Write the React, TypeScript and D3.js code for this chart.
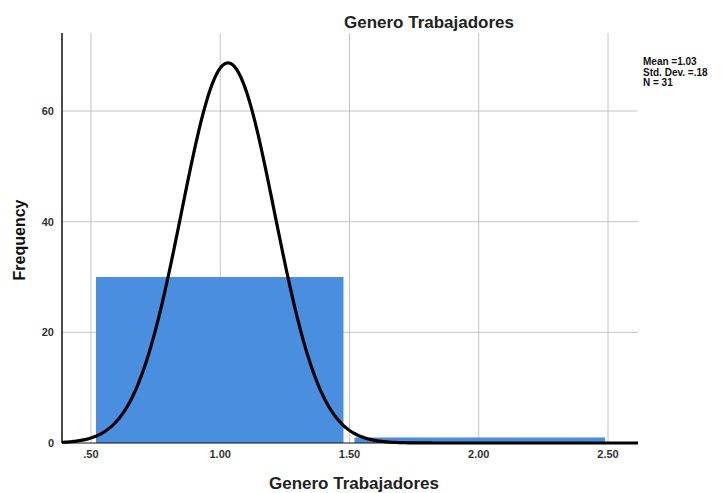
import React from "react";
import * as d3 from "d3";

// Histogram of "Genero Trabajadores" with a fitted normal curve
const binStarts = [0.5, 1.5];
const binEnds = [1.5, 2.5];
const frequencies = [30, 1];
const xTicks = [0.5, 1.0, 1.5, 2.0, 2.5];
const xTickLabels = [".50", "1.00", "1.50", "2.00", "2.50"];
const yTicks = [0, 20, 40, 60];
const statLines = ["Mean =1.03", "Std. Dev. =.18", "N = 31"];
const mean = 1.03;
const stdDev = 0.18;
const n = 31;

const W = 722;
const H = 493;
const margin = { top: 33, right: 84, bottom: 50, left: 62 };

export default function App() {
  const innerW = W - margin.left - margin.right;
  const innerH = H - margin.top - margin.bottom;
  const x = d3.scaleLinear().domain([0.388, 2.616]).range([0, innerW]);
  const y = d3.scaleLinear().domain([0, 74.1]).range([innerH, 0]);
  const binWidth = binEnds[0] - binStarts[0];

  const curvePts = d3.range(0, 401).map((i) => {
    const xv = x.domain()[0] + ((x.domain()[1] - x.domain()[0]) * i) / 400;
    const z = (xv - mean) / stdDev;
    const yv = (n * binWidth) / (stdDev * Math.sqrt(2 * Math.PI)) * Math.exp(-0.5 * z * z);
    return [xv, yv] as [number, number];
  });
  const line = d3
    .line<[number, number]>()
    .x((d) => x(d[0]))
    .y((d) => y(d[1]))
    .curve(d3.curveBasis);

  const font = "'Liberation Sans', Arial, sans-serif";
  const inset = 5;
  const gridColor = "#c4c4c4";

  return (
    <svg
      width={W}
      height={H}
      style={{ position: "absolute", left: 0, top: 0, background: "#fff" }}
    >
      <text
        x={429}
        y={28}
        textAnchor="middle"
        fontFamily={font}
        fontWeight="bold"
        fontSize={17}
        fill="#222"
      >
        Genero Trabajadores
      </text>
      <g transform={`translate(${margin.left},${margin.top})`}>
        {/* grid */}
        {xTicks.map((t) => (
          <line key={"gx" + t} x1={x(t)} x2={x(t)} y1={0} y2={innerH} stroke={gridColor} strokeWidth={1} />
        ))}
        {yTicks.slice(1).map((t) => (
          <line key={"gy" + t} x1={0} x2={innerW} y1={y(t)} y2={y(t)} stroke={gridColor} strokeWidth={1} />
        ))}
        {/* bars */}
        {frequencies.map((f, i) => (
          <rect
            key={"b" + i}
            x={x(binStarts[i]) + inset}
            width={x(binEnds[i]) - x(binStarts[i]) - inset - (i === 0 ? 6 : 3)}
            y={y(f)}
            height={y(0) - y(f)}
            fill="#4a8ee0"
          />
        ))}
        {/* axes */}
        <line x1={0} x2={0} y1={0} y2={innerH} stroke="#111" strokeWidth={1.5} />
        <line x1={0} x2={innerW} y1={innerH} y2={innerH} stroke="#111" strokeWidth={1} />
        {/* normal curve */}
        <path d={line(curvePts) || ""} fill="none" stroke="#000" strokeWidth={3.2} />
        {/* tick labels */}
        {yTicks.map((t) => (
          <text
            key={"ty" + t}
            x={-8}
            y={y(t)}
            dy="0.35em"
            textAnchor="end"
            fontFamily={font}
            fontWeight="bold"
            fontSize={11}
            fill="#333"
          >
            {t}
          </text>
        ))}
        {xTicks.map((t, i) => (
          <text
            key={"tx" + t}
            x={x(t)}
            y={innerH + 15}
            textAnchor="middle"
            fontFamily={font}
            fontWeight="bold"
            fontSize={11}
            fill="#333"
          >
            {xTickLabels[i]}
          </text>
        ))}
      </g>
      <text
        x={354}
        y={489}
        textAnchor="middle"
        fontFamily={font}
        fontWeight="bold"
        fontSize={17}
        fill="#222"
      >
        Genero Trabajadores
      </text>
      <text
        transform={`translate(25,${margin.top + innerH / 2 + 2}) rotate(-90)`}
        textAnchor="middle"
        fontFamily={font}
        fontWeight="bold"
        fontSize={16}
        fill="#111"
      >
        Frequency
      </text>
      {statLines.map((s, i) => (
        <text
          key={s}
          x={643}
          y={65 + i * 10.5}
          fontFamily={font}
          fontWeight="bold"
          fontSize={10}
          fill="#111"
        >
          {s}
        </text>
      ))}
    </svg>
  );
}
